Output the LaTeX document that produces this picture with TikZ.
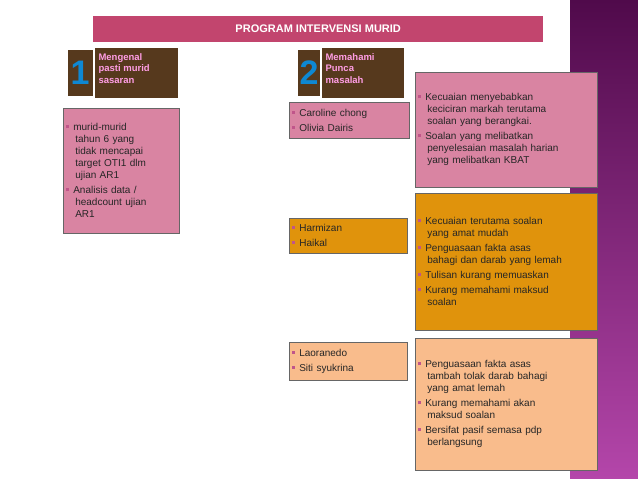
\documentclass[tikz,border=0pt]{standalone}
\usepackage{fontspec}
\setmainfont{Liberation Sans}
\begin{document}
\begin{tikzpicture}[x=1pt,y=-1pt,
 box/.style={draw=black!60,line width=0.6pt,anchor=north west,align=left,inner xsep=3pt,inner ysep=3pt,font=\fontsize{10}{12}\selectfont,text=black!85},
 wood/.style={fill=brown!45!black,draw=none},
 num/.style={font=\fontsize{34}{34}\selectfont\bfseries,text=cyan!70!blue},
 head/.style={anchor=north west,align=left,font=\fontsize{9.5}{11.5}\selectfont\bfseries,text=pink!60!magenta!70!white}]
\definecolor{pinkbox}{HTML}{D984A2}
\definecolor{orangebox}{HTML}{E0930C}
\definecolor{peachbox}{HTML}{F9BC8C}
\definecolor{titlebar}{HTML}{C2456E}
\definecolor{bul}{HTML}{C0558A}
\newcommand{\bu}{\textcolor{bul}{\rule[0.25em]{3pt}{3pt}}\hspace{4pt}}
\useasboundingbox (0,0) rectangle (638,479);
\fill[white] (0,0) rectangle (638,479);
\shade[top color={rgb,255:red,80;green,10;blue,75},bottom color={rgb,255:red,180;green,70;blue,170}] (570,0) rectangle (638,479);
\node[fill=titlebar,minimum width=450pt,minimum height=26pt,anchor=north west,text=white,font=\fontsize{11}{13}\selectfont\bfseries] (title) at (93,16) {PROGRAM INTERVENSI MURID};
% section 1
\fill[wood] (68,50) rectangle (93,96);
\node[num] (n1) at (80,73) {1};
\fill[wood] (95,48) rectangle (178,98);
\node[head] (h1) at (95,50) {Mengenal\\pasti murid\\sasaran};
\node[box,fill=pinkbox,text width=110pt,minimum height=125pt] (b1) at (63,108) {\bu murid-murid\\\hspace*{9pt}tahun 6 yang\\\hspace*{9pt}tidak mencapai\\\hspace*{9pt}target OTI1 dlm\\\hspace*{9pt}ujian AR1\\[3pt]\bu Analisis data /\\\hspace*{9pt}headcount ujian\\\hspace*{9pt}AR1};
% section 2
\fill[wood] (298,50) rectangle (320,96);
\node[num] (n2) at (309,73) {2};
\fill[wood] (322,48) rectangle (404,98);
\node[head] (h2) at (322,50) {Memahami\\Punca\\masalah};
\node[box,fill=pinkbox,text width=114pt,minimum height=36pt] (c1) at (289,102) {\bu Caroline chong\\[3pt]\bu Olivia Dairis};
\node[box,fill=pinkbox,text width=176pt,minimum height=115pt] (r1) at (415,72) {\bu Kecuaian menyebabkan\\\hspace*{9pt}keciciran markah terutama\\\hspace*{9pt}soalan yang berangkai.\\[3pt]\bu Soalan yang melibatkan\\\hspace*{9pt}penyelesaian masalah harian\\\hspace*{9pt}yang melibatkan KBAT};
\node[box,fill=orangebox,text width=112pt,minimum height=35pt] (c2) at (289,218) {\bu Harmizan\\[3pt]\bu Haikal};
\node[box,fill=orangebox,text width=176pt,minimum height=137pt] (r2) at (415,193) {\bu Kecuaian terutama soalan\\\hspace*{9pt}yang amat mudah\\[3pt]\bu Penguasaan fakta asas\\\hspace*{9pt}bahagi dan darab yang lemah\\[3pt]\bu Tulisan kurang memuaskan\\[3pt]\bu Kurang memahami maksud\\\hspace*{9pt}soalan};
\node[box,fill=peachbox,text width=112pt,minimum height=38pt] (c3) at (289,342) {\bu Laoranedo\\[3pt]\bu Siti syukrina};
\node[box,fill=peachbox,text width=176pt,minimum height=132pt] (r3) at (415,338) {\bu Penguasaan fakta asas\\\hspace*{9pt}tambah tolak darab bahagi\\\hspace*{9pt}yang amat lemah\\[3pt]\bu Kurang memahami akan\\\hspace*{9pt}maksud soalan\\[3pt]\bu Bersifat pasif semasa pdp\\\hspace*{9pt}berlangsung};
\end{tikzpicture}
\end{document}
